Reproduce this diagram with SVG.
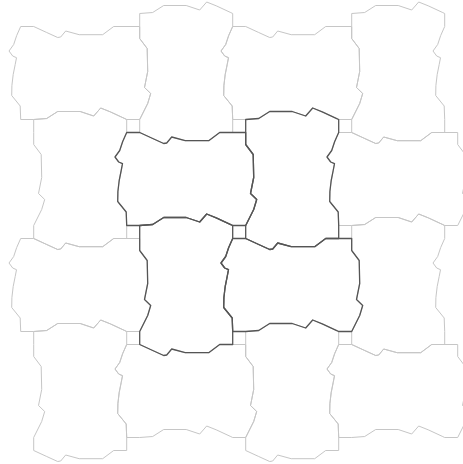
<svg xmlns="http://www.w3.org/2000/svg" xmlns:xlink="http://www.w3.org/1999/xlink" width="463" height="464" viewBox="0 0 463 464">
<style>
.lt{fill:none;stroke:#c6c6c6;stroke-width:1;stroke-linejoin:round}
.dk{fill:none;stroke:#555;stroke-width:1.3;stroke-linejoin:round}
</style>
<defs>
<path id="H" d="M0,13 L13,13 L26,19 L37,24 L40,23.5 L45,17.5 L58.5,21.2 L82,21.2 L93,13 L119,13 L119,25 L126.5,35 L127,58 L123.8,74 L130,80 L127,90 L119,106 L106,106 L103.5,104.8 L89.5,98.3 L80,94.5 L73,102.5 L59.5,98 L37,98 L26,105 L13,106 L0,106 L-0.5,92.5 L-9,82 L-8.8,72 L-7.5,61 L-5.5,51 L-4.2,44.2 L-8,42.5 L-11.7,37.5 L-7,31 L-4,22 Z"/>
<path id="V" d="M13,0 L26,-1 L37,-8 L59.5,-8 L73,-3.5 L80,-11.5 L89.5,-7.7 L103.5,-1.2 L106,0 L106,13 L102,22 L99,31 L94.3,37.5 L98,42.5 L101.8,44.2 L100.5,51 L98.5,61 L97.2,72 L97,82 L105.5,92.5 L106,106 L106,119 L93,119 L82,127.2 L58.5,127.2 L45,123.5 L40,129.5 L37,130 L26,125 L13,119 L13,106 L21,90 L24,80 L17.8,74 L21,58 L20.5,35 L13,25 L13,13 Z"/>
</defs>
<rect width="463" height="464" fill="#fff"/>
<g id="tiles-light">
<g id="t-m1-m1"><use href="#H" class="lt" transform="translate(20.7,13.5)"/></g>
<g id="t-0-m1"><use href="#V" class="lt" transform="translate(126.7,13.5)"/></g>
<g id="t-1-m1"><use href="#H" class="lt" transform="translate(232.7,13.5)"/></g>
<g id="t-2-m1"><use href="#V" class="lt" transform="translate(338.7,13.5)"/></g>
<g id="t-m1-0"><use href="#V" class="lt" transform="translate(20.7,119.5)"/></g>
<g id="t-2-0"><use href="#H" class="lt" transform="translate(338.7,119.5)"/></g>
<g id="t-m1-1"><use href="#H" class="lt" transform="translate(20.7,225.5)"/></g>
<g id="t-2-1"><use href="#V" class="lt" transform="translate(338.7,225.5)"/></g>
<g id="t-m1-2"><use href="#V" class="lt" transform="translate(20.7,331.5)"/></g>
<g id="t-0-2"><use href="#H" class="lt" transform="translate(126.7,331.5)"/></g>
<g id="t-1-2"><use href="#V" class="lt" transform="translate(232.7,331.5)"/></g>
<g id="t-2-2"><use href="#H" class="lt" transform="translate(338.7,331.5)"/></g>
</g>
<g id="tiles-dark">
<g id="t-0-0"><use href="#H" class="dk" transform="translate(126.7,119.5)"/></g>
<g id="t-1-0"><use href="#V" class="dk" transform="translate(232.7,119.5)"/></g>
<g id="t-0-1"><use href="#V" class="dk" transform="translate(126.7,225.5)"/></g>
<g id="t-1-1"><use href="#H" class="dk" transform="translate(232.7,225.5)"/></g>
</g>
</svg>
